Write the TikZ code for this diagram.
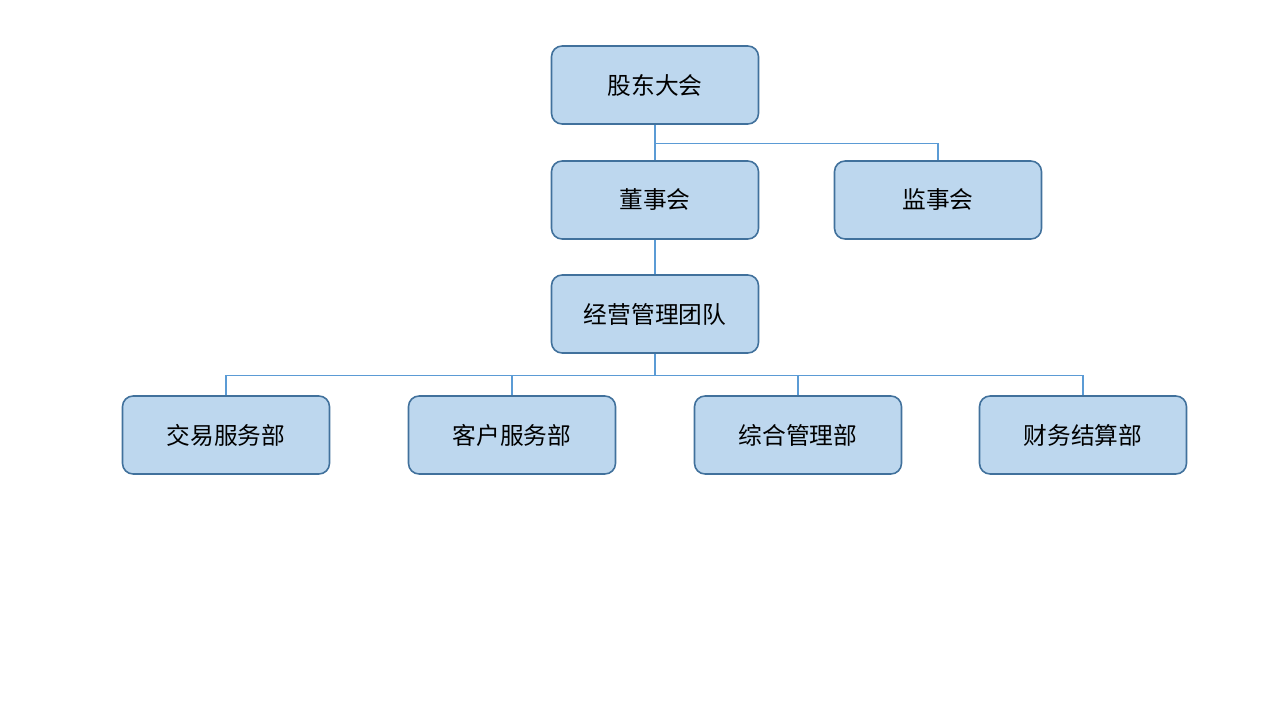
\documentclass[tikz,border=0pt]{standalone}
\usepackage{fontspec}
\newfontfamily\cjk{Noto Sans CJK SC}
\usepackage{tikz}
\usetikzlibrary{calc,positioning}

\definecolor{boxfill}{HTML}{BDD7EE}
\definecolor{boxdraw}{HTML}{41719C}
\definecolor{linkcol}{HTML}{5B9BD5}

\begin{document}
\begin{tikzpicture}[
  x=0.02cm,y=-0.02cm,
  font=\cjk\fontsize{13.5}{16}\selectfont,
  unit/.style={draw=boxdraw,fill=boxfill,line width=0.9pt,rounded corners=6pt,
    minimum width=4.14cm,minimum height=1.56cm,align=center,inner sep=2pt},
  link/.style={draw=linkcol,line width=0.6pt}
]
\useasboundingbox (0,0) rectangle (1280,720);

% top levels
\node[unit] (gd)  at (655,85)  {股东大会};
\node[unit] (dsh) at (655,200) {董事会};
\node[unit] (jsh) at (938,200) {监事会};
\node[unit] (jy)  at (655,314) {经营管理团队};

% departments
\node[unit] (jyfw) at (226,435)  {交易服务部};
\node[unit] (khfw) at (512,435)  {客户服务部};
\node[unit] (zhgl) at (798,435)  {综合管理部};
\node[unit] (cwjs) at (1083,435) {财务结算部};

% connectors
\coordinate (topbus) at ($(gd.south)+(0,19)$);
\coordinate (bus) at ($(jy.south)+(0,22)$);
\draw[link] (gd.south) -- (dsh.north);
\draw[link] (topbus) -| (jsh.north);
\draw[link] (dsh.south) -- (jy.north);
\draw[link] (jy.south) -- (bus);
\foreach \d in {jyfw,khfw,zhgl,cwjs}
  \draw[link] (bus) -| (\d.north);
\end{tikzpicture}
\end{document}
